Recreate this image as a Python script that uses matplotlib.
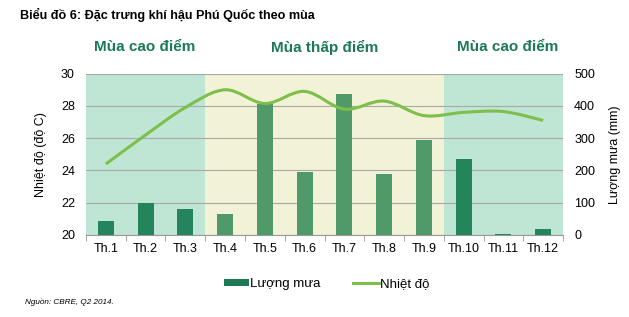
import matplotlib.pyplot as plt
from matplotlib.path import Path
from matplotlib.patches import PathPatch, Patch
from matplotlib.lines import Line2D

plt.rcParams['font.family'] = ['Liberation Sans', 'DejaVu Sans']

thang = ["Th.1", "Th.2", "Th.3", "Th.4", "Th.5", "Th.6",
         "Th.7", "Th.8", "Th.9", "Th.10", "Th.11", "Th.12"]
luong_mua = [42, 99, 82, 65, 406, 196, 436, 189, 295, 236, 3, 18]
nhiet_do = [24.4, 26.2, 27.9, 29.0, 28.15, 28.9, 27.8, 28.3, 27.4, 27.6, 27.65, 27.1]
mua_cao = [0, 1, 2, 9, 10, 11]

xanh_nen = "#bfe6d4"
vang_nen = "#f2f2d6"
cot_dam = "#24855c"
cot_nhat = "#4f9a68"
duong = "#7dbf4a"
chu_xanh = "#1b7a55"

fig = plt.figure(figsize=(6.29, 3.17), dpi=100)
ax = fig.add_axes([0.1367, 0.2587, 0.7584, 0.509])
ax2 = ax.twinx()

x = list(range(len(thang)))

# nen theo mua
ax.axvspan(-0.5, 2.5, color=xanh_nen, zorder=0, lw=0)
ax.axvspan(2.5, 8.5, color=vang_nen, zorder=0, lw=0)
ax.axvspan(8.5, 11.5, color=xanh_nen, zorder=0, lw=0)

mau = [cot_dam if i in mua_cao else cot_nhat for i in x]
ax.bar(x, luong_mua, width=0.4, color=mau, zorder=3)
ax.set_ylim(0, 500)
ax.set_xlim(-0.5, 11.5)
ax.set_yticks([0, 100, 200, 300, 400, 500])
ax.yaxis.tick_right()
ax.yaxis.set_label_position("right")
ax.set_ylabel("Lượng mưa (mm)", fontsize=9, labelpad=10, rotation=90)
ax.grid(axis="y", color="#a8a8a8", lw=0.8, zorder=1)
ax.set_axisbelow(False)

ax.set_xticks(x)
ax.set_xticklabels(thang, fontsize=9)
ax.set_xticks([i + 0.5 for i in range(-1, 12)], minor=True)
ax.tick_params(axis="x", which="major", length=0, pad=6)
ax.tick_params(axis="x", which="minor", length=4, color="#999999")
ax.tick_params(axis="y", length=0, labelsize=9, pad=8)
for s in ["top", "left", "right"]:
    ax.spines[s].set_visible(False)
ax.spines["bottom"].set_color("#999999")

# duong nhiet do (lam muot)
ax2.set_ylim(20, 30)
pts = list(zip(x, nhiet_do))
verts = [pts[0]]
codes = [Path.MOVETO]
for i in range(len(pts) - 1):
    p0 = pts[i - 1] if i > 0 else pts[i]
    p1 = pts[i]
    p2 = pts[i + 1]
    p3 = pts[i + 2] if i + 2 < len(pts) else pts[i + 1]
    c1 = (p1[0] + (p2[0] - p0[0]) / 6, p1[1] + (p2[1] - p0[1]) / 6)
    c2 = (p2[0] - (p3[0] - p1[0]) / 6, p2[1] - (p3[1] - p1[1]) / 6)
    verts += [c1, c2, p2]
    codes += [Path.CURVE4] * 3
ax2.add_patch(PathPatch(Path(verts, codes), fill=False, edgecolor=duong, lw=2.2, zorder=4))
ax2.yaxis.tick_left()
ax2.yaxis.set_label_position("left")
ax2.set_yticks([20, 22, 24, 26, 28, 30])
ax2.tick_params(axis="y", length=0, labelsize=9, pad=8)
ax2.set_ylabel("Nhiệt độ (độ C)", fontsize=9, labelpad=10)
for s in ["top", "left", "right", "bottom"]:
    ax2.spines[s].set_visible(False)

# chu thich mua
fig.text(145 / 629, 1 - 47 / 317, "Mùa cao điểm", ha="center", va="center",
         fontsize=11, fontweight="bold", color=chu_xanh)
fig.text(325 / 629, 1 - 47 / 317, "Mùa thấp điểm", ha="center", va="center",
         fontsize=11, fontweight="bold", color=chu_xanh)
fig.text(508 / 629, 1 - 47 / 317, "Mùa cao điểm", ha="center", va="center",
         fontsize=11, fontweight="bold", color=chu_xanh)

fig.text(20 / 629, 1 - 15 / 317, "Biểu đồ 6: Đặc trưng khí hậu Phú Quốc theo mùa",
         ha="left", va="center", fontsize=9.1, fontweight="bold")
fig.text(25 / 629, 1 - 302 / 317, "Nguồn: CBRE, Q2 2014.", ha="left", va="center",
         fontsize=5.9, style="italic")

handles = [Patch(facecolor="#1e7a55"), Line2D([0], [0], color=duong, lw=2.2)]
fig.legend(handles, ["Lượng mưa", "Nhiệt độ"], loc="center", ncol=2,
           bbox_to_anchor=(0.519, 1 - 284 / 317), frameon=False, fontsize=9.5,
           handlelength=1.9, handleheight=0.45, handletextpad=0.1, columnspacing=2.5)

fig.savefig("out.png", dpi=100)
